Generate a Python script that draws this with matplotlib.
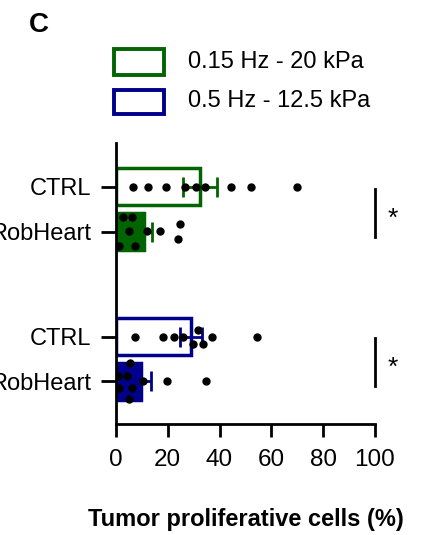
import matplotlib.pyplot as plt
from matplotlib.patches import Rectangle

plt.rcParams['font.family'] = ['Liberation Sans', 'DejaVu Sans']

# rows (top to bottom)
labels = ['CTRL', 'RobHeart', 'CTRL', 'RobHeart']
rows = [0, 1, 3.33, 4.32]
green = '#006400'
blue = '#00008B'
colors = [green, green, blue, blue]
filled = [False, True, False, True]

means = [32.5, 10.9, 29.0, 9.6]
sems = [6.5, 3.1, 4.3, 3.9]

# individual points: value and vertical jitter (in row units)
pts_x = [
    [6.7, 12.2, 19.5, 26.6, 30.9, 34.4, 44.4, 52.1, 69.9],
    [2.6, 6.3, 5.0, 11.8, 17.0, 24.7, 24.1, 1.3, 7.3],
    [7.3, 18.3, 22.4, 25.8, 31.5, 29.8, 33.5, 37.1, 54.3],
    [5.4, 0.9, 4.1, 10.3, 19.6, 34.7, 1.3, 6.3, 5.1],
]
pts_dy = [
    [0, 0, 0, 0, 0, 0, 0, 0, 0],
    [-0.33, -0.33, -0.02, -0.02, -0.02, -0.17, 0.16, 0.32, 0.32],
    [0, 0, 0, 0, -0.16, 0.16, 0.16, 0, 0],
    [-0.4, -0.11, -0.11, 0, 0, 0, 0.16, 0.16, 0.4],
]

legend_labels = ['0.15 Hz - 20 kPa', '0.5 Hz - 12.5 kPa']
legend_colors = [green, blue]

W, H = 431, 535
fig = plt.figure(figsize=(W / 100, H / 100), dpi=100)
ax = fig.add_axes([0.269, 0.2075, 0.601, 0.5255])

for i in range(4):
    c = colors[i]
    ax.barh(rows[i], means[i], height=0.82, color=c if filled[i] else 'white',
            edgecolor=c, linewidth=2.5, zorder=2)
    ax.errorbar(means[i], rows[i], xerr=sems[i], color=c, elinewidth=2,
                capsize=7.5, capthick=2, zorder=3)
    ys = [rows[i] + d for d in pts_dy[i]]
    ax.plot(pts_x[i], ys, 'o', color='black', markersize=5, zorder=4)

# significance marks
for y0, y1 in [(0.05, 1.11), (3.36, 4.43)]:
    ax.plot([100, 100], [y0, y1], color='black', linewidth=2, clip_on=False)
    ax.text(107, (y0 + y1) / 2 + 0.12, '*', fontsize=19, ha='center', va='center')

ax.set_xlim(0, 100)
ax.set_ylim(5.27, -0.98)
ax.set_yticks(rows)
ax.set_yticklabels(labels)
ax.set_xticks([0, 20, 40, 60, 80, 100])
ax.tick_params(axis='y', labelsize=17, width=2, length=11, pad=7)
ax.tick_params(axis='x', labelsize=17.5, width=2, length=9.5, pad=8.5)
ax.spines['top'].set_visible(False)
ax.spines['right'].set_visible(False)
ax.spines['left'].set_linewidth(2)
ax.spines['bottom'].set_linewidth(2)
ax.set_xlabel('Tumor proliferative cells (%)', fontsize=17,
              fontweight='bold', labelpad=27)

# legend drawn by hand (pixel layout of the reference)
for k, (top, bot, ty) in enumerate([(49, 75, 62), (90, 114, 101)]):
    fig.add_artist(Rectangle((114 / W, 1 - bot / H), 50 / W, (bot - top) / H,
                             transform=fig.transFigure, facecolor='white',
                             edgecolor=legend_colors[k], linewidth=2.8))
    fig.text(188 / W, 1 - ty / H, legend_labels[k], fontsize=17, va='center')

fig.text(0.066, 1 - 25 / H, 'C', fontsize=20, fontweight='bold', va='center')

fig.savefig('out.png', dpi=100)
